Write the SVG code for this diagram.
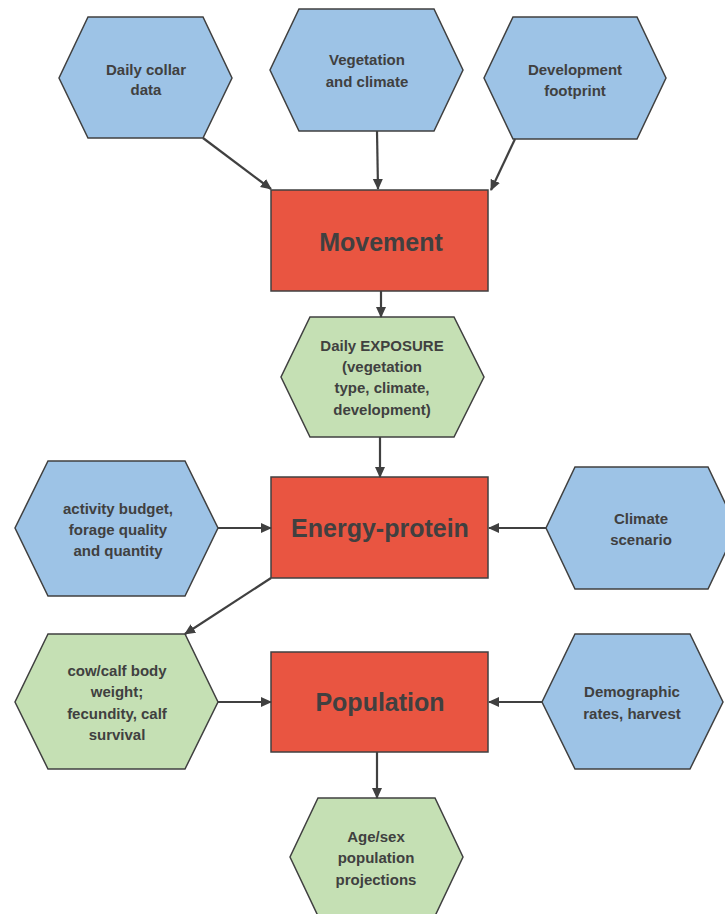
<svg xmlns="http://www.w3.org/2000/svg" width="725" height="914" viewBox="0 0 725 914">
<style>
.blue{fill:#9DC3E6;stroke:#404040;stroke-width:1.5}
.green{fill:#C5E0B4;stroke:#404040;stroke-width:1.5}
.red{fill:#E95541;stroke:#404040;stroke-width:1.5}
.t{font-family:"Liberation Sans",Arial,sans-serif;font-weight:bold;font-size:15px;fill:#404040;text-anchor:middle}
.big{font-family:"Liberation Sans",Arial,sans-serif;font-weight:bold;font-size:25px;fill:#404040;text-anchor:middle}
.c{stroke:#404040;stroke-width:2.2;fill:none;marker-end:url(#ah)}
</style>
<defs>
<marker id="ah" markerUnits="userSpaceOnUse" markerWidth="11" markerHeight="11" refX="10" refY="5.5" orient="auto">
<path d="M0,0.5 L11,5.5 L0,10.5 z" fill="#404040"/>
</marker>
</defs>
<rect width="725" height="914" fill="#fff"/>
<g id="collar">
<polygon class="blue" points="88,17 203,17 232,78 203,138 88,138 59,78"/>
<text class="t" x="146" y="75">Daily collar</text>
<text class="t" x="146" y="95">data</text>
</g>
<g id="vegetation">
<polygon class="blue" points="299,9 434,9 463,70 434,131 299,131 270,70"/>
<text class="t" x="367" y="65">Vegetation</text>
<text class="t" x="367" y="87">and climate</text>
</g>
<g id="footprint">
<polygon class="blue" points="513,17 637,17 666,78 637,139 513,139 484,78"/>
<text class="t" x="575" y="75">Development</text>
<text class="t" x="575" y="96">footprint</text>
</g>
<g id="movement">
<rect class="red" x="271" y="190" width="217" height="101"/>
<text class="big" x="381" y="251">Movement</text>
</g>
<g id="exposure">
<polygon class="green" points="310,317 454,317 484,377 454,437 310,437 281,377"/>
<text class="t" x="382" y="351">Daily EXPOSURE</text>
<text class="t" x="382" y="372">(vegetation</text>
<text class="t" x="382" y="393">type, climate,</text>
<text class="t" x="382" y="415">development)</text>
</g>
<g id="energy">
<rect class="red" x="271" y="477" width="217" height="101"/>
<text class="big" x="380" y="537">Energy-protein</text>
</g>
<g id="activity">
<polygon class="blue" points="48,461 185,461 218,528 185,596 48,596 15,528"/>
<text class="t" x="118" y="514">activity budget,</text>
<text class="t" x="118" y="535">forage quality</text>
<text class="t" x="118" y="556">and quantity</text>
</g>
<g id="climate">
<polygon class="blue" points="575,467 708,467 737,528 708,589 575,589 546,528"/>
<text class="t" x="641" y="524">Climate</text>
<text class="t" x="641" y="545">scenario</text>
</g>
<g id="cowcalf">
<polygon class="green" points="48,634 185,634 218,702 185,769 48,769 15,702"/>
<text class="t" x="117" y="676">cow/calf body</text>
<text class="t" x="117" y="697">weight;</text>
<text class="t" x="117" y="719">fecundity, calf</text>
<text class="t" x="117" y="740">survival</text>
</g>
<g id="population">
<rect class="red" x="271" y="652" width="217" height="100"/>
<text class="big" x="380" y="711">Population</text>
</g>
<g id="demographic">
<polygon class="blue" points="575,634 690,634 723,702 690,769 575,769 542,702"/>
<text class="t" x="632" y="697">Demographic</text>
<text class="t" x="632" y="719">rates, harvest</text>
</g>
<g id="agesex">
<polygon class="green" points="318,798 435,798 463,857 435,916 318,916 290,857"/>
<text class="t" x="376" y="842">Age/sex</text>
<text class="t" x="376" y="863">population</text>
<text class="t" x="376" y="885">projections</text>
</g>
<g id="connectors">
<line class="c" x1="203" y1="138" x2="271" y2="189"/>
<line class="c" x1="377" y1="131" x2="378" y2="189"/>
<line class="c" x1="515" y1="139" x2="491" y2="190"/>
<line class="c" x1="381" y1="291" x2="381" y2="317"/>
<line class="c" x1="380" y1="437" x2="380" y2="477"/>
<line class="c" x1="218" y1="528" x2="271" y2="528"/>
<line class="c" x1="546" y1="528" x2="489" y2="528"/>
<line class="c" x1="271" y1="578" x2="185" y2="634"/>
<line class="c" x1="218" y1="702" x2="271" y2="702"/>
<line class="c" x1="542" y1="702" x2="489" y2="702"/>
<line class="c" x1="377" y1="752" x2="377" y2="798"/>
</g>
</svg>
